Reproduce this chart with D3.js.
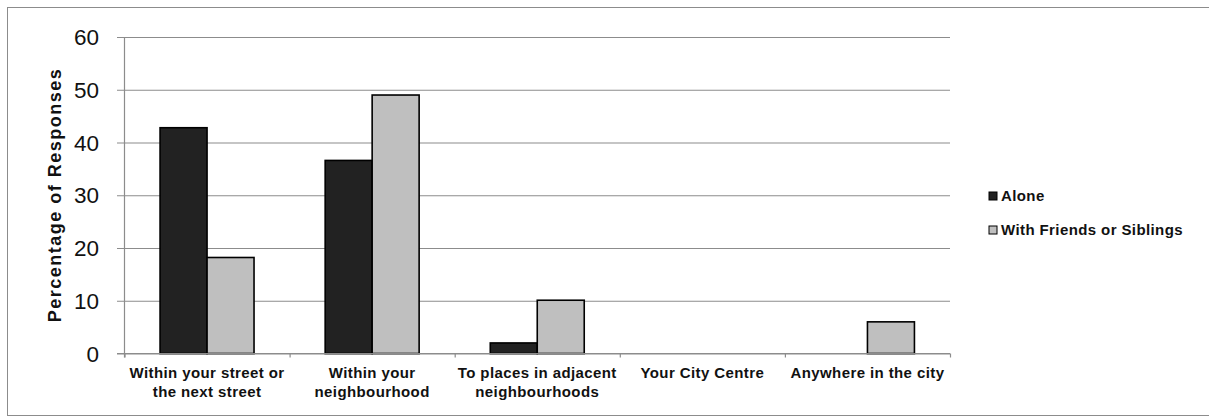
<!DOCTYPE html>
<html>
<head>
<meta charset="utf-8">
<script src="https://cdn.jsdelivr.net/npm/d3@7"></script>
<style>
  html, body { margin: 0; padding: 0; background: #fff; }
  svg { display: block; }
</style>
</head>
<body>
<svg id="chart" width="1209" height="417"></svg>
<script>
// Where children are allowed to go, by company
const categories = [
  ["Within your street or", "the next street"],
  ["Within your", "neighbourhood"],
  ["To places in adjacent", "neighbourhoods"],
  ["Your City Centre"],
  ["Anywhere in the city"]
];
const seriesNames = ["Alone", "With Friends or Siblings"];
const aloneValues = [42.8, 36.6, 2.0, 0, 0];
const friendsValues = [18.2, 49.0, 10.1, 0, 6.0];
const yTicks = [0, 10, 20, 30, 40, 50, 60];
const seriesColors = ["#222222", "#bfbfbf"];

const svg = d3.select("#chart");
const W = 1209, H = 417;

// outer frame
svg.append("rect")
  .attr("x", 7.5).attr("y", 7.5)
  .attr("width", W).attr("height", H - 9)
  .attr("fill", "none").attr("stroke", "#8c8c8c").attr("stroke-width", 1);

const plot = { left: 124.5, right: 950, top: 37, bottom: 353.5 };

const x = d3.scaleBand()
  .domain(d3.range(categories.length))
  .range([plot.left, plot.right]);

const inner = d3.scaleBand()
  .domain([0, 1])
  .range([0, x.bandwidth()])
  .paddingOuter(0.757)
  .paddingInner(0);

const y = d3.scaleLinear().domain([0, 60]).range([plot.bottom, plot.top]);

// horizontal gridlines with left ticks
const yAxis = d3.axisLeft(y)
  .tickValues(yTicks)
  .tickSize(-(plot.right - plot.left))
  .tickSizeOuter(0)
  .tickPadding(0)
  .tickFormat(() => "");
const gy = svg.append("g")
  .attr("transform", `translate(${plot.left},0)`)
  .call(yAxis);
gy.select(".domain").remove();
gy.selectAll(".tick line")
  .attr("x1", -7.5)
  .attr("stroke", "#8c8c8c")
  .attr("stroke-width", 1.2);

// y tick labels
svg.append("g").selectAll("text")
  .data(yTicks)
  .join("text")
  .attr("x", 99)
  .attr("y", d => y(d) + 8)
  .attr("text-anchor", "end")
  .attr("font-family", "'Liberation Sans', Arial, sans-serif")
  .attr("font-size", 22.5)
  .attr("fill", "#111")
  .text(d => d);

// bars
const seriesData = [aloneValues, friendsValues];
const groups = svg.append("g").selectAll("g")
  .data(seriesData)
  .join("g")
  .attr("fill", (d, i) => seriesColors[i]);

groups.each(function (vals, si) {
  d3.select(this).selectAll("rect")
    .data(vals.map((v, ci) => ({ v, ci })).filter(d => d.v > 0))
    .join("rect")
    .attr("x", d => x(d.ci) + inner(si))
    .attr("width", inner.bandwidth())
    .attr("y", d => y(d.v))
    .attr("height", d => y(0) - y(d.v))
    .attr("stroke", "#000")
    .attr("stroke-width", 1.6);
});

// x axis line with category dividers
const xAxis = d3.axisBottom(d3.scaleLinear().domain([0, categories.length]).range([plot.left, plot.right]))
  .tickValues(d3.range(categories.length + 1))
  .tickSize(4)
  .tickFormat(() => "");
const gx = svg.append("g")
  .attr("transform", `translate(0,${plot.bottom})`)
  .call(xAxis);
gx.select(".domain")
  .attr("d", `M${plot.left - 7.5},0H${plot.right}`)
  .attr("stroke", "#8c8c8c").attr("stroke-width", 1.2);
gx.selectAll(".tick line").attr("stroke", "#8c8c8c").attr("stroke-width", 1.2);

// y axis line
svg.append("line")
  .attr("x1", plot.left).attr("x2", plot.left)
  .attr("y1", plot.top).attr("y2", plot.bottom + 4)
  .attr("stroke", "#8c8c8c").attr("stroke-width", 1.2);

// category labels
const catLabels = svg.append("g").selectAll("text")
  .data(categories)
  .join("text")
  .attr("x", (d, i) => x(i) + x.bandwidth() / 2)
  .attr("y", 378)
  .attr("text-anchor", "middle")
  .attr("font-family", "'Liberation Sans', Arial, sans-serif")
  .attr("font-weight", "bold")
  .attr("font-size", 15)
  .attr("letter-spacing", 0.4)
  .attr("fill", "#111");
catLabels.selectAll("tspan")
  .data(d => d)
  .join("tspan")
  .attr("x", function () { return d3.select(this.parentNode).attr("x"); })
  .attr("dy", (d, i) => i === 0 ? 0 : 19)
  .text(d => d);

// y axis title
svg.append("text")
  .attr("transform", "translate(61,195) rotate(-90)")
  .attr("text-anchor", "middle")
  .attr("font-family", "'Liberation Sans', Arial, sans-serif")
  .attr("font-weight", "bold")
  .attr("font-size", 18)
  .attr("letter-spacing", 1.5)
  .attr("fill", "#111")
  .text("Percentage of Responses");

// legend
const legend = svg.append("g").selectAll("g")
  .data(seriesNames)
  .join("g")
  .attr("transform", (d, i) => `translate(989,${192 + i * 34})`);
legend.append("rect")
  .attr("width", 8).attr("height", 8)
  .attr("fill", (d, i) => seriesColors[i])
  .attr("stroke", "#000").attr("stroke-width", 1);
legend.append("text")
  .attr("x", 12).attr("y", 9)
  .attr("font-family", "'Liberation Sans', Arial, sans-serif")
  .attr("font-weight", "bold")
  .attr("font-size", 15)
  .attr("letter-spacing", 0.4)
  .attr("fill", "#111")
  .text(d => d);
</script>
</body>
</html>
